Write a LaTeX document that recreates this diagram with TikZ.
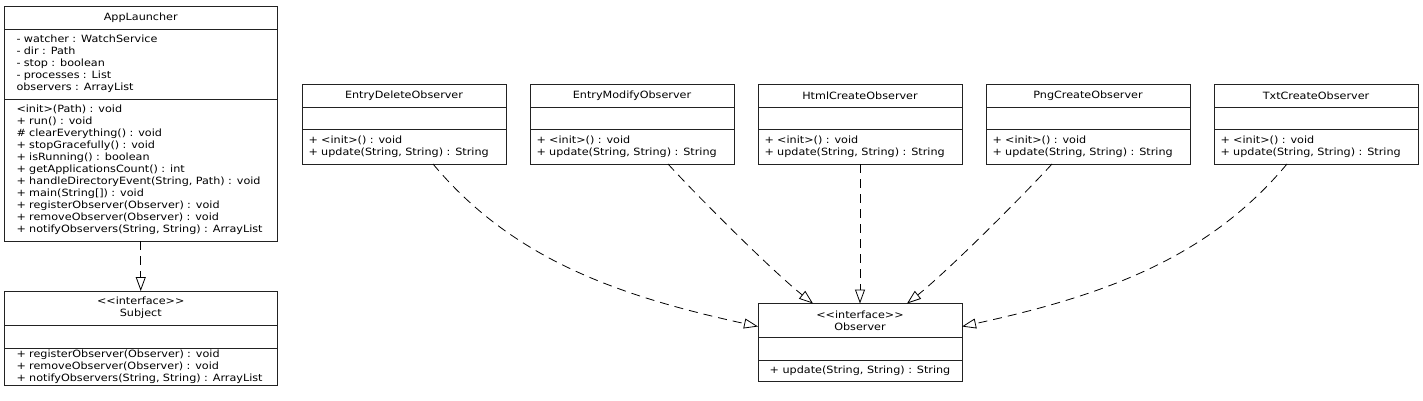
\documentclass[tikz,border=0pt]{standalone}
\usepackage{fontspec}
\newfontfamily\umlfont[FakeStretch=1.12]{DejaVu Sans}
\usepackage{tikz}
\usetikzlibrary{positioning,arrows.meta}
\definecolor{edge}{HTML}{222222}
\tikzset{
  part/.style={draw=edge, line width=0.9pt, rectangle, inner sep=0pt, outer sep=0pt, align=left, text=black, font=\umlfont\fontsize{10}{12}\selectfont},
  head/.style={part, align=center},
  body/.style={part, inner xsep=#1},
  impl/.style={draw=black, line width=0.8pt, dash pattern=on 9pt off 6pt, -{Triangle[open, length=14pt, width=10pt]}},
}

\begin{document}
\begin{tikzpicture}[x=1pt, y=-1pt]
  \useasboundingbox (0,0) rectangle (1423,401);

  % launcher and its interface
  \node[head, anchor=north west, minimum width=272.5pt, minimum height=23pt] (app) at (4.5,6) {AppLauncher};
  \node[body=12pt, text width=248.5pt, below=0pt of app, minimum height=70pt] (appAttr) {- watcher : WatchService\\- dir : Path\\- stop : boolean\\- processes : List\\observers : ArrayList};
  \node[body=12pt, text width=248.5pt, below=0pt of appAttr, minimum height=142pt] (appOps) {<init>(Path) : void\\+ run() : void\\\# clearEverything() : void\\+ stopGracefully() : void\\+ isRunning() : boolean\\+ getApplicationsCount() : int\\+ handleDirectoryEvent(String, Path) : void\\+ main(String[]) : void\\+ registerObserver(Observer) : void\\+ removeObserver(Observer) : void\\+ notifyObservers(String, String) : ArrayList};

  \node[head, anchor=north west, minimum width=272.5pt, minimum height=34pt] (subj) at (4.5,291) {<<interface>>\\Subject};
  \node[part, below=0pt of subj, minimum width=272.5pt, minimum height=23.5pt] (subjAttr) {};
  \node[body=12pt, text width=248.5pt, below=0pt of subjAttr, minimum height=37pt] (subjOps) {+ registerObserver(Observer) : void\\+ removeObserver(Observer) : void\\+ notifyObservers(String, String) : ArrayList};

  % observers
  \node[head, anchor=north west, minimum width=204pt, minimum height=23.5pt] (del) at (302,84) {EntryDeleteObserver};
  \node[part, below=0pt of del, minimum width=204pt, minimum height=21.5pt] (delAttr) {};
  \node[body=6.5pt, text width=191pt, below=0pt of delAttr, minimum height=35pt] (delOps) {+ <init>() : void\\+ update(String, String) : String};

  \node[head, anchor=north west, minimum width=204pt, minimum height=23.5pt] (mod) at (530,84) {EntryModifyObserver};
  \node[part, below=0pt of mod, minimum width=204pt, minimum height=21.5pt] (modAttr) {};
  \node[body=6.5pt, text width=191pt, below=0pt of modAttr, minimum height=35pt] (modOps) {+ <init>() : void\\+ update(String, String) : String};

  \node[head, anchor=north west, minimum width=204pt, minimum height=23.5pt] (html) at (758,84) {HtmlCreateObserver};
  \node[part, below=0pt of html, minimum width=204pt, minimum height=21.5pt] (htmlAttr) {};
  \node[body=6.5pt, text width=191pt, below=0pt of htmlAttr, minimum height=35pt] (htmlOps) {+ <init>() : void\\+ update(String, String) : String};

  \node[head, anchor=north west, minimum width=204pt, minimum height=23.5pt] (png) at (986,84) {PngCreateObserver};
  \node[part, below=0pt of png, minimum width=204pt, minimum height=21.5pt] (pngAttr) {};
  \node[body=6.5pt, text width=191pt, below=0pt of pngAttr, minimum height=35pt] (pngOps) {+ <init>() : void\\+ update(String, String) : String};

  \node[head, anchor=north west, minimum width=204pt, minimum height=23.5pt] (txt) at (1214,84) {TxtCreateObserver};
  \node[part, below=0pt of txt, minimum width=204pt, minimum height=21.5pt] (txtAttr) {};
  \node[body=6.5pt, text width=191pt, below=0pt of txtAttr, minimum height=35pt] (txtOps) {+ <init>() : void\\+ update(String, String) : String};

  \node[head, anchor=north west, minimum width=204pt, minimum height=34pt] (obs) at (758,303.5) {<<interface>>\\Observer};
  \node[part, below=0pt of obs, minimum width=204pt, minimum height=23pt] (obsAttr) {};
  \node[part, below=0pt of obsAttr, minimum width=204pt, minimum height=21pt] (obsOps) {+ update(String, String) : String};

  % realizations
  \draw[impl] (appOps) -- (subj);
  \draw[impl] ([xshift=29pt]delOps.south) .. controls +(77,92) and +(-147,-32) .. ([yshift=11pt]obs.south west);
  \draw[impl] ([xshift=36pt]modOps.south) .. controls +(34,37) and +(-39,-31) .. ([xshift=-47pt]obs.north);
  \draw[impl] (htmlOps) -- (obs);
  \draw[impl] ([xshift=-36pt]pngOps.south) .. controls +(-34,37) and +(39,-31) .. ([xshift=47pt]obs.north);
  \draw[impl] ([xshift=-29pt]txtOps.south) .. controls +(-77,92) and +(147,-32) .. ([yshift=11pt]obs.south east);
\end{tikzpicture}
\end{document}
